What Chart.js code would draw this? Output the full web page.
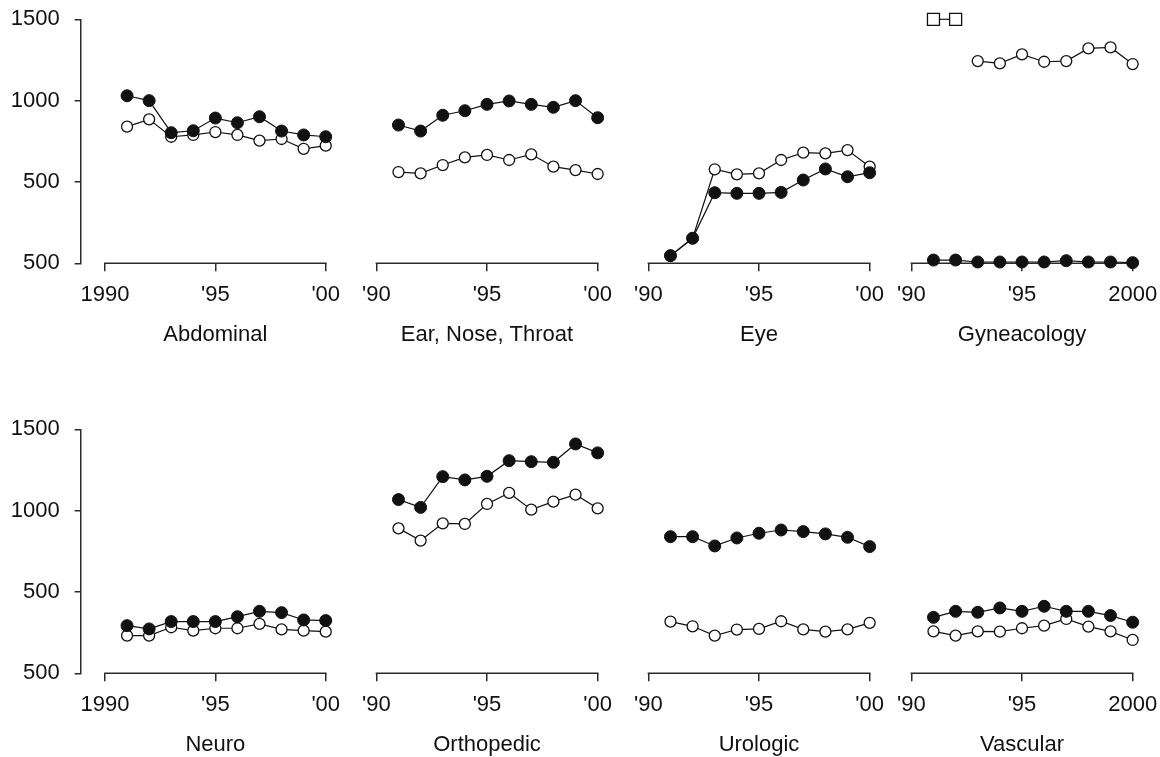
<!DOCTYPE html>
<html>
<head>
<meta charset="utf-8">
<title>Surgery by specialty, 1991-2000</title>
<script src="https://cdn.jsdelivr.net/npm/chart.js@4/dist/chart.umd.min.js"></script>
<style>
  body { margin: 0; background: #fff; }
  #wrap { position: relative; width: 1160px; height: 757px; overflow: hidden; }
  #wrap canvas { position: absolute; }
</style>
</head>
<body>
<div id="wrap"></div>
<script>
// years and axis labels
const years = [1991, 1992, 1993, 1994, 1995, 1996, 1997, 1998, 1999, 2000];
const panelNames = ['Abdominal', 'Ear, Nose, Throat', 'Eye', 'Gyneacology',
                    'Neuro', 'Orthopedic', 'Urologic', 'Vascular'];
const yTickValues = [0, 500, 1000, 1500];
const yTickLabels = ['500', '500', '1000', '1500'];
const xTickValues = [1990, 1995, 2000];
const xLabelsFirst = ['1990', "'95", "'00"];
const xLabelsMid = ["'90", "'95", "'00"];
const xLabelsLast = ["'90", "'95", '2000'];

// filled = solid dots, open = hollow dots
const abdominalFilled = [1030, 1000, 803, 815, 893, 864, 901, 813, 789, 778];
const abdominalOpen   = [840, 885, 778, 789, 807, 789, 754, 764, 704, 723];
const entFilled       = [850, 813, 910, 938, 977, 998, 977, 959, 1000, 895];
const entOpen         = [561, 553, 604, 651, 666, 635, 670, 594, 573, 549];
const eyeFilled       = [47, 154, 434, 430, 430, 436, 512, 580, 532, 557];
const eyeOpen         = [47, 154, 578, 547, 553, 635, 680, 676, 696, 594];
const gynFilled       = [20, 20, 8, 8, 8, 8, 16, 8, 8, 4];
const gynOpen         = [null, null, 1243, 1229, 1284, 1239, 1243, 1321, 1327, 1225];
const gynOffScale     = [1500, 1500, null, null, null, null, null, null, null, null];
const neuroFilled     = [293, 273, 318, 318, 318, 348, 381, 373, 328, 324];
const neuroOpen       = [232, 232, 283, 262, 277, 277, 304, 270, 262, 256];
const orthoFilled     = [1068, 1020, 1209, 1189, 1211, 1307, 1301, 1297, 1410, 1355];
const orthoOpen       = [891, 816, 922, 918, 1041, 1109, 1006, 1055, 1098, 1014];
const uroFilled       = [840, 840, 783, 832, 861, 881, 871, 857, 836, 779];
const uroOpen         = [318, 289, 232, 269, 273, 320, 270, 256, 270, 310];
const vascFilled      = [344, 381, 375, 402, 381, 412, 381, 381, 355, 314];
const vascOpen        = [258, 232, 258, 256, 277, 293, 334, 287, 258, 205];

const panels = [
  [abdominalFilled, abdominalOpen],
  [entFilled, entOpen],
  [eyeFilled, eyeOpen],
  [gynFilled, gynOpen, gynOffScale],
  [neuroFilled, neuroOpen],
  [orthoFilled, orthoOpen],
  [uroFilled, uroOpen],
  [vascFilled, vascOpen]
];

const ink = '#111';
const axisInk = '#2b2b2b';
const font = { family: '"Liberation Sans", Arial, sans-serif', size: 22 };

// layout of the grid of small charts (plot area centred on '95)
const xMin = 1988.9, xMax = 2001.1;
const pxPerYear = 22.1;
const plotW = (xMax - xMin) * pxPerYear;
const areaLeft = [80.7, 351.7, 623.7, 886.7];
const rowTop = [0, 409.7];
const canvasH = 360;
const padTop = 19.3;
const plotBottom = 263.3;
const padL = 10, padR = 34;
const yAxisW = 80.7;

function pts(vals) {
  return years.map((yr, i) => ({ x: yr, y: vals[i] }));
}

// draws the x axis line between the first and last tick only
const xBaseline = {
  id: 'xBaseline',
  beforeDatasetsDraw(chart) {
    const sx = chart.scales.x;
    const ctx = chart.ctx;
    ctx.save();
    ctx.strokeStyle = axisInk;
    ctx.lineWidth = 1.5;
    ctx.beginPath();
    ctx.moveTo(sx.getPixelForValue(xTickValues[0]) - 0.75, sx.top);
    ctx.lineTo(sx.getPixelForValue(xTickValues[2]) + 0.75, sx.top);
    ctx.stroke();
    ctx.restore();
  }
};

const wrap = document.getElementById('wrap');

panels.forEach((series, idx) => {
  const col = idx % 4, row = Math.floor(idx / 4);
  const first = col === 0;
  const left = first ? 0 : areaLeft[col] - padL;
  const width = (first ? yAxisW : padL) + plotW + padR;

  const canvas = document.createElement('canvas');
  canvas.width = Math.round(width);
  canvas.height = canvasH;
  canvas.style.left = left + 'px';
  canvas.style.top = rowTop[row] + 'px';
  wrap.appendChild(canvas);

  const xLabels = col === 0 ? xLabelsFirst : (col === 3 ? xLabelsLast : xLabelsMid);

  const datasets = [
    {
      data: pts(series[0]),
      borderColor: ink, borderWidth: 1.2,
      pointRadius: 6, pointBackgroundColor: ink, pointBorderColor: ink, pointBorderWidth: 1,
      clip: false
    },
    {
      data: pts(series[1]),
      borderColor: ink, borderWidth: 1.2,
      pointRadius: 5.5, pointBackgroundColor: '#fff', pointBorderColor: ink, pointBorderWidth: 1.3,
      clip: false
    }
  ];
  if (series[2]) {
    datasets.push({
      data: pts(series[2]),
      borderColor: ink, borderWidth: 1.2,
      pointStyle: 'rect', pointRadius: 8.5,
      pointBackgroundColor: '#fff', pointBorderColor: ink, pointBorderWidth: 1.3,
      clip: false
    });
  }

  new Chart(canvas, {
    type: 'line',
    data: { datasets: datasets },
    options: {
      responsive: false,
      animation: false,
      events: [],
      layout: {
        padding: { top: padTop, bottom: 0, left: first ? 0 : padL, right: padR }
      },
      plugins: { legend: { display: false }, tooltip: { enabled: false } },
      scales: {
        x: {
          type: 'linear',
          min: xMin, max: xMax,
          afterBuildTicks: s => { s.ticks = xTickValues.map(v => ({ value: v })); },
          afterFit: s => { s.height = canvasH - plotBottom; },
          border: { display: false },
          grid: { drawOnChartArea: false, drawTicks: true, tickLength: 8, color: axisInk, lineWidth: 1.5 },
          ticks: {
            color: ink, font: font, padding: 10, maxRotation: 0, autoSkip: false,
            callback: (v, i) => xLabels[i]
          },
          title: {
            display: true, text: panelNames[idx], color: ink, font: font,
            padding: { top: 0, bottom: 12 }
          }
        },
        y: {
          display: first,
          min: 0, max: 1500,
          afterBuildTicks: s => { s.ticks = yTickValues.map(v => ({ value: v })); },
          afterFit: s => {
            if (!first) return;
            s.width = yAxisW;
            // labels sit inside the top padding, don't push the plot down
            s.paddingTop = 0;
            s.paddingBottom = 0;
          },
          border: { display: true, color: axisInk, width: 1.5 },
          grid: { drawOnChartArea: false, drawTicks: true, tickLength: 6, color: axisInk, lineWidth: 1.5 },
          ticks: {
            color: ink, font: font, padding: 15,
            callback: (v, i) => yTickLabels[i]
          }
        }
      }
    },
    plugins: [xBaseline]
  });
});
</script>
</body>
</html>
